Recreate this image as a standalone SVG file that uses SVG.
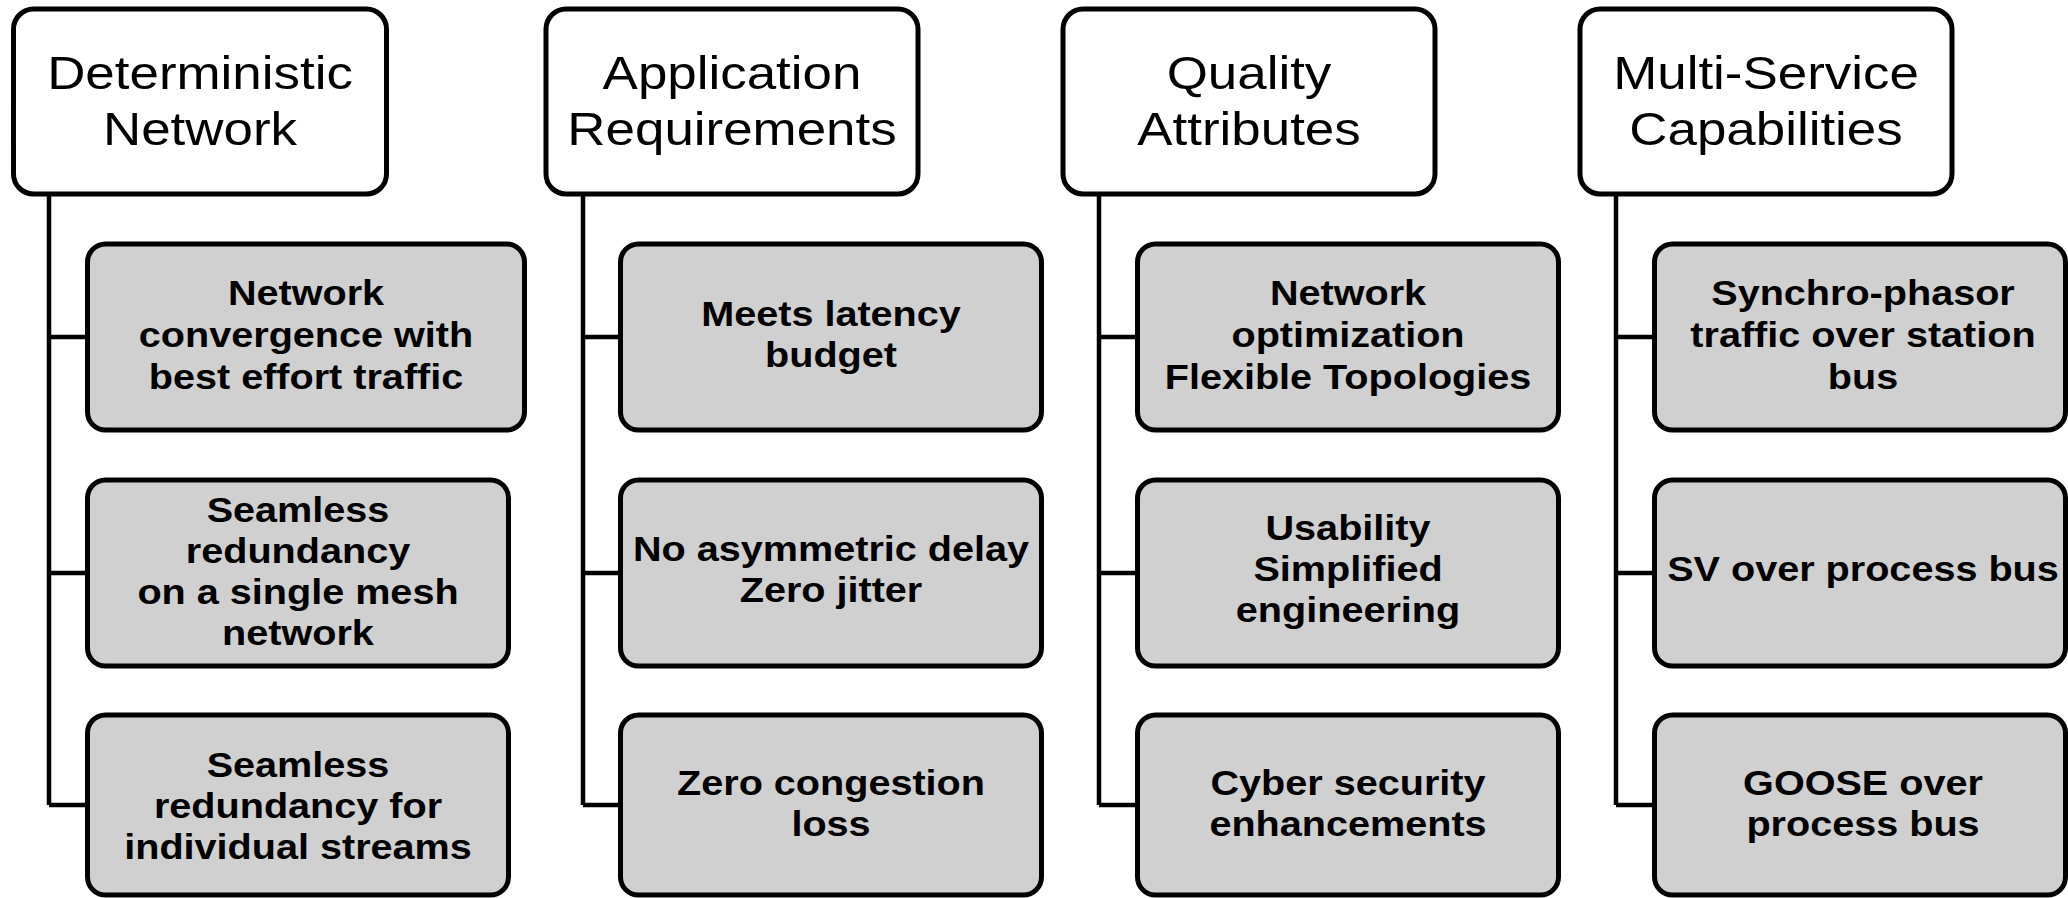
<svg xmlns="http://www.w3.org/2000/svg" width="2068" height="898" viewBox="0 0 2068 898">
<style>
.hdr{fill:#ffffff;stroke:#000;stroke-width:5}
.box{fill:#d0d0d0;stroke:#000;stroke-width:5}
.conn{fill:none;stroke:#000;stroke-width:4.5}
.ht{font-family:"Liberation Sans",Arial,sans-serif;font-size:46px;text-anchor:middle;fill:#000}
.bt{font-family:"Liberation Sans",Arial,sans-serif;font-size:36px;font-weight:bold;text-anchor:middle;fill:#000}
</style>
<rect width="2068" height="898" fill="#fff"/>
<g id="connectors">
<path class="conn" d="M49,195 V805 M49,337 H86 M49,573 H86 M49,805 H86"/>
<path class="conn" d="M583,195 V805 M583,337 H619 M583,573 H619 M583,805 H619"/>
<path class="conn" d="M1099,195 V805 M1099,337 H1136 M1099,573 H1136 M1099,805 H1136"/>
<path class="conn" d="M1616,195 V805 M1616,337 H1653 M1616,573 H1653 M1616,805 H1653"/>
</g>
<g id="h1"><rect class="hdr" x="13.5" y="9" width="373" height="185" rx="20"/>
<text class="ht" transform="translate(200,0) scale(1.15,1)"><tspan x="0" y="89">Deterministic</tspan><tspan x="0" y="145">Network</tspan></text></g>
<g id="h2"><rect class="hdr" x="546" y="9" width="372" height="185" rx="20"/>
<text class="ht" transform="translate(732,0) scale(1.15,1)"><tspan x="0" y="89">Application</tspan><tspan x="0" y="145">Requirements</tspan></text></g>
<g id="h3"><rect class="hdr" x="1063" y="9" width="372" height="185" rx="20"/>
<text class="ht" transform="translate(1249,0) scale(1.15,1)"><tspan x="0" y="89">Quality</tspan><tspan x="0" y="145">Attributes</tspan></text></g>
<g id="h4"><rect class="hdr" x="1580" y="9" width="372" height="185" rx="20"/>
<text class="ht" transform="translate(1766,0) scale(1.15,1)"><tspan x="0" y="89">Multi-Service</tspan><tspan x="0" y="145">Capabilities</tspan></text></g>

<g id="c1a"><rect class="box" x="87.5" y="244" width="437" height="186" rx="18"/>
<text class="bt" transform="translate(306,0) scale(1.1,1)"><tspan x="0" y="305">Network</tspan><tspan x="0" y="347">convergence with</tspan><tspan x="0" y="389">best effort traffic</tspan></text></g>
<g id="c1b"><rect class="box" x="87.5" y="480" width="421" height="186" rx="18"/>
<text class="bt" transform="translate(298,0) scale(1.1,1)"><tspan x="0" y="522">Seamless</tspan><tspan x="0" y="563">redundancy</tspan><tspan x="0" y="604">on a single mesh</tspan><tspan x="0" y="645">network</tspan></text></g>
<g id="c1c"><rect class="box" x="87.5" y="715" width="421" height="180" rx="18"/>
<text class="bt" transform="translate(298,0) scale(1.1,1)"><tspan x="0" y="777">Seamless</tspan><tspan x="0" y="818">redundancy for</tspan><tspan x="0" y="859">individual streams</tspan></text></g>

<g id="c2a"><rect class="box" x="620.5" y="244" width="421" height="186" rx="18"/>
<text class="bt" transform="translate(831,0) scale(1.1,1)"><tspan x="0" y="326">Meets latency</tspan><tspan x="0" y="367">budget</tspan></text></g>
<g id="c2b"><rect class="box" x="620.5" y="480" width="421" height="186" rx="18"/>
<text class="bt" transform="translate(831,0) scale(1.1,1)"><tspan x="0" y="561">No asymmetric delay</tspan><tspan x="0" y="602">Zero jitter</tspan></text></g>
<g id="c2c"><rect class="box" x="620.5" y="715" width="421" height="180" rx="18"/>
<text class="bt" transform="translate(831,0) scale(1.1,1)"><tspan x="0" y="795">Zero congestion</tspan><tspan x="0" y="836">loss</tspan></text></g>

<g id="c3a"><rect class="box" x="1137.5" y="244" width="421" height="186" rx="18"/>
<text class="bt" transform="translate(1348,0) scale(1.1,1)"><tspan x="0" y="305">Network</tspan><tspan x="0" y="347">optimization</tspan><tspan x="0" y="389">Flexible Topologies</tspan></text></g>
<g id="c3b"><rect class="box" x="1137.5" y="480" width="421" height="186" rx="18"/>
<text class="bt" transform="translate(1348,0) scale(1.1,1)"><tspan x="0" y="540">Usability</tspan><tspan x="0" y="581">Simplified</tspan><tspan x="0" y="622">engineering</tspan></text></g>
<g id="c3c"><rect class="box" x="1137.5" y="715" width="421" height="180" rx="18"/>
<text class="bt" transform="translate(1348,0) scale(1.1,1)"><tspan x="0" y="795">Cyber security</tspan><tspan x="0" y="836">enhancements</tspan></text></g>

<g id="c4a"><rect class="box" x="1654.5" y="244" width="411" height="186" rx="18"/>
<text class="bt" transform="translate(1863,0) scale(1.1,1)"><tspan x="0" y="305">Synchro-phasor</tspan><tspan x="0" y="347">traffic over station</tspan><tspan x="0" y="389">bus</tspan></text></g>
<g id="c4b"><rect class="box" x="1654.5" y="480" width="411" height="186" rx="18"/>
<text class="bt" transform="translate(1863,0) scale(1.1,1)"><tspan x="0" y="581">SV over process bus</tspan></text></g>
<g id="c4c"><rect class="box" x="1654.5" y="715" width="411" height="180" rx="18"/>
<text class="bt" transform="translate(1863,0) scale(1.1,1)"><tspan x="0" y="795">GOOSE over</tspan><tspan x="0" y="836">process bus</tspan></text></g>
</svg>
